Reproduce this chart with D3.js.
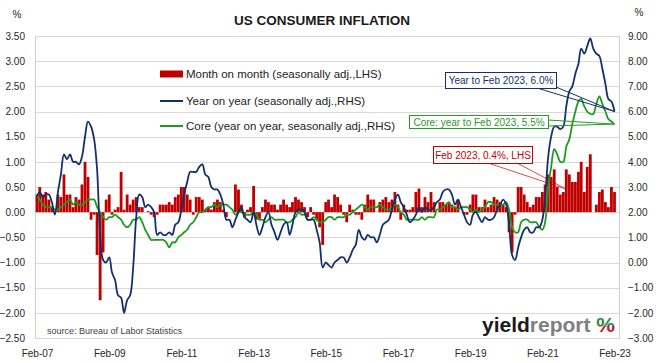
<!DOCTYPE html>
<html>
<head>
<meta charset="utf-8">
<script src="https://cdn.jsdelivr.net/npm/d3@7"></script>
<style>
body { margin: 0; background: #fff; }
svg text { font-family: "Liberation Sans", Arial, sans-serif; }
</style>
</head>
<body>
<svg id="chart" width="662" height="363"></svg>
<script>
// monthly series, Feb-07 .. Feb-23
var firstMonth = 'Feb-07';

var momValues = [
    0.35, 0.5, 0.35, 0.4, 0.25, 0.1, 0.0, 0.35, 0.3, 0.75, 0.35,                 // 2007 Feb-Dec
    0.35, 0.1, 0.3, 0.25, 0.55, 1.0, 0.7, -0.15, -0.05, -0.85, -1.75, -0.8,      // 2008
    0.25, 0.35, -0.05, 0.05, 0.1, 0.8, 0.05, 0.35, 0.15, 0.25, 0.3, 0.1,         // 2009
    0.1, 0.0, 0.02, -0.05, -0.1, -0.05, 0.15, 0.15, 0.15, 0.2, 0.15, 0.3,        // 2010
    0.35, 0.5, 0.5, 0.35, 0.25, -0.05, 0.3, 0.3, 0.25, 0.05, 0.1, 0.05,          // 2011
    0.2, 0.25, 0.2, 0.05, -0.1, 0.0, 0.0, 0.55, 0.45, 0.15, -0.1, 0.05,          // 2012
    0.1, 0.52, -0.15, -0.15, 0.1, 0.25, 0.2, 0.15, 0.15, 0.05, 0.15, 0.25,       // 2013
    0.15, 0.1, 0.2, 0.3, 0.25, 0.2, 0.1, -0.1, 0.1, -0.05, -0.15, -0.3,          // 2014
    -0.65, 0.2, 0.25, 0.1, 0.35, 0.3, 0.15, -0.05, -0.2, 0.15, 0.05, -0.05,      // 2015
    -0.05, -0.15, 0.15, 0.35, 0.25, 0.25, 0.0, 0.2, 0.25, 0.3, 0.2, 0.25,        // 2016
    0.4, 0.15, -0.15, 0.15, 0.05, 0.05, 0.1, 0.4, 0.47, 0.1, 0.3, 0.2,           // 2017
    0.4, 0.2, 0.0, 0.2, 0.2, 0.15, 0.2, 0.15, 0.1, 0.25, 0.0, -0.05,             // 2018
    -0.05, 0.15, 0.35, 0.35, 0.1, 0.1, 0.25, 0.1, 0.15, 0.3, 0.25, 0.2,          // 2019
    0.15, 0.1, -0.4, -0.8, -0.05, 0.5, 0.5, 0.35, 0.2, 0.1, 0.15, 0.3,           // 2020
    0.3, 0.4, 0.55, 0.75, 0.7, 0.85, 0.5, 0.35, 0.4, 0.85, 0.75, 0.6,            // 2021
    0.6, 0.8, 1.0, 0.4, 0.9, 1.15, 0.0, 0.15, 0.4, 0.45, 0.2, 0.1,               // 2022
    0.5, 0.4                                                                      // 2023 Jan-Feb
];

var yoyValues = [
    2.65, 2.8, 2.6, 2.7, 2.7, 2.4, 1.9, 2.8, 3.5, 4.3, 4.1,
    4.3, 4.0, 4.0, 3.9, 4.2, 5.0, 5.6, 5.4, 4.9, 3.7, 1.1, 0.1,
    0.0, 0.2, -0.4, -0.7, -1.3, -1.4, -2.0, -1.5, -1.3, -0.2, 1.8, 2.7,
    2.6, 2.2, 2.3, 2.2, 2.0, 1.1, 1.2, 1.1, 1.1, 1.2, 1.1, 1.5,
    1.6, 2.1, 2.7, 3.2, 3.6, 3.6, 3.6, 3.8, 3.9, 3.5, 3.4, 3.0,
    2.9, 2.9, 2.7, 2.3, 1.7, 1.7, 1.4, 1.7, 2.0, 2.2, 1.8, 1.7,
    1.6, 2.0, 1.5, 1.1, 1.4, 1.8, 2.0, 1.5, 1.2, 0.9, 1.2, 1.5,
    1.6, 1.1, 1.5, 2.0, 2.1, 2.1, 2.0, 1.7, 1.7, 1.7, 1.3, 0.8,
    -0.2, 0.0, -0.1, -0.2, 0.0, 0.1, 0.2, 0.2, 0.0, 0.2, 0.5, 0.7,
    1.3, 1.0, 0.9, 1.1, 1.0, 1.0, 0.8, 1.1, 1.5, 1.6, 1.7, 2.1,
    2.5, 2.7, 2.4, 2.2, 1.9, 1.6, 1.7, 1.9, 2.2, 2.0, 2.2, 2.1,
    2.1, 2.2, 2.4, 2.5, 2.8, 2.9, 2.9, 2.7, 2.3, 2.5, 2.2, 1.9,
    1.6, 1.5, 1.9, 2.0, 1.8, 1.6, 1.8, 1.7, 1.7, 1.8, 2.1, 2.3,
    2.5, 2.3, 1.5, 0.3, 0.1, 0.6, 1.0, 1.3, 1.4, 1.2, 1.2, 1.4,
    1.4, 1.7, 2.6, 4.2, 5.0, 5.4, 5.4, 5.3, 5.4, 6.2, 6.8, 7.0,
    7.5, 7.9, 8.5, 8.3, 8.6, 8.9, 8.5, 8.3, 8.2, 7.7, 7.1, 6.5,
    6.4, 6.0
];

var coreValues = [
    2.7, 2.5, 2.3, 2.2, 2.2, 2.2, 2.1, 2.1, 2.2, 2.3, 2.4,
    2.5, 2.3, 2.4, 2.3, 2.3, 2.4, 2.5, 2.5, 2.5, 2.2, 2.0, 1.8,
    1.7, 1.8, 1.8, 1.9, 1.8, 1.7, 1.5, 1.4, 1.5, 1.7, 1.7, 1.8,
    1.6, 1.3, 1.1, 0.9, 0.9, 0.9, 0.9, 0.9, 0.8, 0.6, 0.8, 0.8,
    1.0, 1.1, 1.2, 1.3, 1.5, 1.6, 1.8, 2.0, 2.0, 2.1, 2.2, 2.2,
    2.3, 2.2, 2.3, 2.3, 2.3, 2.2, 2.1, 1.9, 2.0, 2.0, 1.9, 1.9,
    1.9, 2.0, 1.9, 1.7, 1.7, 1.6, 1.7, 1.8, 1.7, 1.7, 1.7, 1.7,
    1.6, 1.6, 1.7, 1.8, 2.0, 1.9, 1.9, 1.7, 1.7, 1.8, 1.7, 1.6,
    1.6, 1.7, 1.8, 1.8, 1.7, 1.8, 1.8, 1.8, 1.9, 1.9, 2.0, 2.1,
    2.2, 2.3, 2.2, 2.1, 2.2, 2.2, 2.2, 2.3, 2.2, 2.1, 2.1, 2.2,
    2.3, 2.2, 2.0, 1.9, 1.7, 1.7, 1.7, 1.7, 1.7, 1.8, 1.7, 1.8,
    1.8, 1.8, 2.1, 2.1, 2.2, 2.3, 2.4, 2.2, 2.2, 2.1, 2.2, 2.2,
    2.2, 2.1, 2.0, 2.1, 2.0, 2.1, 2.2, 2.4, 2.4, 2.3, 2.3, 2.3,
    2.3, 2.4, 2.1, 1.4, 1.2, 1.2, 1.6, 1.7, 1.7, 1.6, 1.6, 1.6,
    1.4, 1.3, 1.6, 3.0, 3.8, 4.5, 4.3, 4.0, 4.0, 4.6, 4.9, 5.5,
    6.0, 6.4, 6.5, 6.2, 6.0, 5.9, 5.9, 6.3, 6.6, 6.3, 6.0, 5.7,
    5.6, 5.5
];

var xTickLabels = ['Feb-07', 'Feb-09', 'Feb-11', 'Feb-13', 'Feb-15', 'Feb-17', 'Feb-19', 'Feb-21', 'Feb-23'];
var leftTicks = [-2.5, -2, -1.5, -1, -0.5, 0, 0.5, 1, 1.5, 2, 2.5, 3, 3.5];
var rightTicks = [-3, -2, -1, 0, 1, 2, 3, 4, 5, 6, 7, 8, 9];

var legendLabels = [
    'Month on month (seasonally adj.,LHS)',
    'Year on year (seasonally adj.,RHS)',
    'Core (year on year, seasonally adj.,RHS)'
];

var colors = { mom: '#c00000', yoy: '#13306e', core: '#1f9a1f', grid: '#d9d9d9' };

(function() {
    var svg = d3.select('#chart'),
        plotLeft = 35, plotRight = 619, plotTop = 36, plotBottom = 338;

    var parseMonth = d3.utcParse('%b-%y'),
        start = parseMonth(firstMonth),
        months = momValues.map(function(v, i) { return d3.utcMonth.offset(start, i); });

    var x = d3.scaleUtc()
        .domain([parseMonth(xTickLabels[0]), parseMonth(xTickLabels[xTickLabels.length - 1])])
        .range([37, 614.5]);
    var yL = d3.scaleLinear().domain([-2.5, 3.5]).range([plotBottom, plotTop]);
    var yR = d3.scaleLinear().domain([-3, 9]).range([plotBottom, plotTop]);

    svg.append('rect').attr('width', 662).attr('height', 363).attr('fill', '#fff');

    // gridlines + frame
    svg.append('g').selectAll('line')
        .data(leftTicks)
        .join('line')
        .attr('x1', plotLeft).attr('x2', plotRight)
        .attr('y1', function(d) { return Math.round(yL(d)) + 0.5; })
        .attr('y2', function(d) { return Math.round(yL(d)) + 0.5; })
        .attr('stroke', colors.grid);
    svg.append('line').attr('x1', plotLeft + 0.5).attr('x2', plotLeft + 0.5).attr('y1', plotTop).attr('y2', plotBottom + 1).attr('stroke', '#cfcfcf');
    svg.append('line').attr('x1', plotRight + 0.5).attr('x2', plotRight + 0.5).attr('y1', plotTop).attr('y2', plotBottom + 1).attr('stroke', '#cfcfcf');

    // axes
    var fmt = d3.format('.2f');
    var axL = svg.append('g')
        .attr('transform', 'translate(' + plotLeft + ',0)')
        .call(d3.axisLeft(yL).tickValues(leftTicks).tickFormat(fmt).tickSize(0).tickPadding(10));
    var axR = svg.append('g')
        .attr('transform', 'translate(' + plotRight + ',0)')
        .call(d3.axisRight(yR).tickValues(rightTicks).tickFormat(fmt).tickSize(0).tickPadding(9));
    var axB = svg.append('g')
        .attr('transform', 'translate(0,' + plotBottom + ')')
        .call(d3.axisBottom(x).tickValues(xTickLabels.map(parseMonth)).tickFormat(d3.utcFormat('%b-%y')).tickSize(0).tickPadding(12));
    [axL, axR, axB].forEach(function(ax) {
        ax.select('.domain').remove();
        ax.selectAll('text')
            .style('font-family', '"Liberation Sans", Arial, sans-serif')
            .style('font-size', '10px')
            .attr('fill', '#262626');
    });

    // red callout pointer sits under the bars
    var redCallout = { text: 'Feb 2023, 0.4%, LHS', x: 433, y: 146, w: 99, h: 17, color: '#c00000',
                       base: [[488, 163], [517, 163]], tip: [566, 189] };
    svg.append('path')
        .attr('d', 'M' + redCallout.base[0] + 'L' + redCallout.tip + 'L' + redCallout.base[1])
        .attr('fill', 'none').attr('stroke', '#d85050').attr('stroke-width', 1);

    // bars
    svg.append('g').selectAll('rect')
        .data(momValues)
        .join('rect')
        .attr('x', function(d, i) { return x(months[i]) - 1.4; })
        .attr('width', 2.8)
        .attr('y', function(d) { return Math.min(yL(d), yL(0)); })
        .attr('height', function(d) { return Math.abs(yL(d) - yL(0)); })
        .attr('fill', colors.mom);

    // lines
    var line = d3.line()
        .x(function(d, i) { return x(months[i]); })
        .y(function(d) { return yR(d); })
        .curve(d3.curveCatmullRom);
    svg.append('path').attr('d', line(coreValues))
        .attr('fill', 'none').attr('stroke', colors.core).attr('stroke-width', 1.8);
    svg.append('path').attr('d', line(yoyValues))
        .attr('fill', 'none').attr('stroke', colors.yoy).attr('stroke-width', 1.8);

    // legend
    var legend = svg.append('g').style('font-size', '11.5px');
    [74, 101, 126].forEach(function(ly, i) {
        if (i === 0) {
            legend.append('rect').attr('x', 160).attr('y', ly - 3.5).attr('width', 23).attr('height', 7).attr('fill', colors.mom);
        } else {
            legend.append('line').attr('x1', 160).attr('x2', 183).attr('y1', ly).attr('y2', ly)
                .attr('stroke', i === 1 ? colors.yoy : colors.core).attr('stroke-width', 2);
        }
        legend.append('text').attr('x', 186).attr('y', ly + 4).attr('fill', '#222').text(legendLabels[i]);
    });

    // callouts
    var last = months.length - 1;
    var callouts = [
        { text: 'Year to Feb 2023, 6.0%', x: 445, y: 72, w: 111, h: 16, color: colors.yoy,
          base: [[537, 88], [556, 87]], tip: [x(months[last]), yR(yoyValues[last])] },
        { text: 'Core: year to Feb 2023, 5.5%', x: 409, y: 115, w: 139, h: 13, color: '#2a9a2a',
          base: [[548, 120], [548, 126]], tip: [x(months[last]), yR(coreValues[last])] }
    ];
    callouts.forEach(function(c) {
        svg.append('path')
            .attr('d', 'M' + c.base[0] + 'L' + c.tip + 'L' + c.base[1])
            .attr('fill', 'none').attr('stroke', c.color).attr('stroke-width', 1);
    });
    callouts.concat([redCallout]).forEach(function(c) {
        svg.append('rect')
            .attr('x', c.x + 0.5).attr('y', c.y + 0.5).attr('width', c.w).attr('height', c.h)
            .attr('fill', '#fff').attr('stroke', c.color).attr('stroke-width', 1);
        svg.append('text')
            .attr('x', c.x + c.w / 2 + 0.5).attr('y', c.y + c.h / 2 + 4)
            .attr('text-anchor', 'middle')
            .style('font-size', '10px')
            .attr('fill', c.color)
            .text(c.text);
    });

    // title and unit labels
    svg.append('text').attr('x', 322).attr('y', 25).attr('text-anchor', 'middle')
        .style('font-size', '13.5px').style('font-weight', 'bold').attr('fill', '#1a1a1a')
        .text('US CONSUMER INFLATION');
    svg.append('text').attr('x', 17).attr('y', 18).attr('text-anchor', 'middle')
        .style('font-size', '10px').attr('fill', '#262626').text('%');
    svg.append('text').attr('x', 639).attr('y', 16).attr('text-anchor', 'middle')
        .style('font-size', '10px').attr('fill', '#262626').text('%');

    svg.append('text').attr('x', 47).attr('y', 334)
        .style('font-size', '9px').attr('fill', '#404040')
        .text('source: Bureau of Labor Statistics');

    // logo
    var defs = svg.append('defs');
    var grad = defs.append('linearGradient').attr('id', 'pct').attr('x1', 0).attr('x2', 0).attr('y1', 0).attr('y2', 1);
    grad.append('stop').attr('offset', '55%').attr('stop-color', '#2e8b3e');
    grad.append('stop').attr('offset', '55%').attr('stop-color', '#c8102e');

    var logo = svg.append('text').attr('x', 482).attr('y', 332)
        .style('font-size', '21px').style('font-weight', 'bold');
    logo.append('tspan').attr('fill', '#1a1a1a').text('yield');
    logo.append('tspan').attr('fill', '#808080').text('report');
    svg.append('text').attr('x', 615).attr('y', 332).attr('text-anchor', 'end')
        .style('font-size', '21px').style('font-weight', 'bold')
        .attr('fill', 'url(#pct)').text('%');
})();
</script>
</body>
</html>
